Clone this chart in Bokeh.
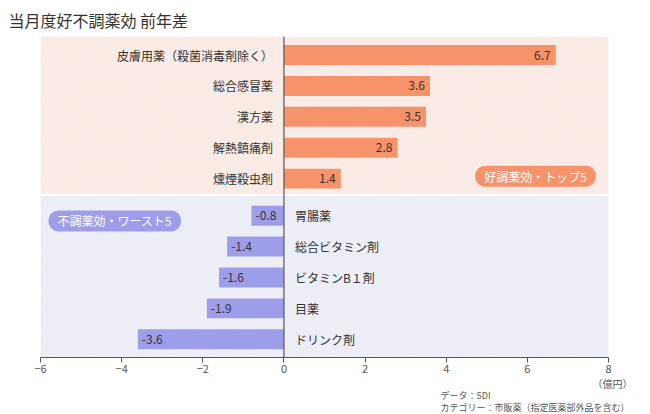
from bokeh.plotting import figure
from bokeh.models import Range1d, FixedTicker, Label, Span, ColumnDataSource, Title
from bokeh.core.properties import value
from bokeh.embed import file_html
from bokeh.resources import INLINE

# ---- data ----
title_text = "当月度好不調薬効 前年差"
top_names = ["皮膚用薬（殺菌消毒剤除く）", "総合感冒薬", "漢方薬", "解熱鎮痛剤", "燻煙殺虫剤"]
top_values = [6.7, 3.6, 3.5, 2.8, 1.4]
bottom_names = ["胃腸薬", "総合ビタミン剤", "ビタミンB１剤", "目薬", "ドリンク剤"]
bottom_values = [-0.8, -1.4, -1.6, -1.9, -3.6]
x_ticks = [-6, -4, -2, 0, 2, 4, 6, 8]
top_badge = "好調薬効・トップ5"
bottom_badge = "不調薬効・ワースト5"
unit_text = "（億円）"
source_lines = ["データ：SDI", "カテゴリー：市販薬（指定医薬部外品を含む）"]

FONT = "Noto Sans CJK JP"
ORANGE = "#F7936A"
LAVENDER = "#9E9DEA"
TXT = "#333333"
NOTE = "#555555"

# layout: row positions (y grows downward)
top_y = [i + 0.6 for i in range(len(top_names))]
bottom_y = [i + 5.8 for i in range(len(bottom_names))]
Y_MAX = 10.39

p = figure(width=640, height=414, output_backend="svg", toolbar_location=None,
           x_range=Range1d(-6, 8), y_range=Range1d(Y_MAX, 0),
           min_border_left=40, min_border_right=32, min_border_top=35, min_border_bottom=57)
p.title.visible = False
p.outline_line_color = None
p.xgrid.visible = False
p.ygrid.visible = False
p.yaxis.visible = False

# background panels
p.quad(left=[-6], right=[8], top=[0], bottom=[5.10], fill_color="#FCF0EC", line_color=None,
       hatch_pattern="/", hatch_color="#F3DCD5", hatch_scale=5, hatch_weight=0.7)
p.quad(left=[-6], right=[8], top=[5.16], bottom=[Y_MAX], fill_color="#F1F2F9", line_color=None,
       hatch_pattern="/", hatch_color="#E1E3EF", hatch_scale=5, hatch_weight=0.7)

top_src = ColumnDataSource(dict(y=top_y, v=top_values, name=top_names,
                                lab=[f"{v:.1f}" for v in top_values]))
bot_src = ColumnDataSource(dict(y=bottom_y, v=bottom_values, name=bottom_names,
                                lab=[f"{v:.1f}" for v in bottom_values]))

p.hbar(y="y", left=0, right="v", height=0.645, fill_color=ORANGE, line_color=None, source=top_src)
p.hbar(y="y", left=0, right="v", height=0.645, fill_color=LAVENDER, line_color=None, source=bot_src)

# value labels
p.text(x="v", y="y", text="lab", source=top_src, x_offset=-5, text_align="right",
       text_baseline="middle", text_font=value(FONT), text_font_size="12px", text_color=TXT)
p.text(x="v", y="y", text="lab", source=bot_src, x_offset=4, text_align="left",
       text_baseline="middle", text_font=value(FONT), text_font_size="12px", text_color=TXT)

# category labels
p.text(x=0, y="y", text="name", source=top_src, x_offset=-11, text_align="right",
       text_baseline="middle", text_font=value(FONT), text_font_size="12px", text_color=TXT)
p.text(x=0, y="y", text="name", source=bot_src, x_offset=11, text_align="left",
       text_baseline="middle", text_font=value(FONT), text_font_size="12px", text_color=TXT)

p.add_layout(Span(location=0, dimension="height", line_color="#555555", line_width=1.2))

# badges
p.add_layout(Label(x=6.2, y=4.52, text=top_badge, text_align="center", text_baseline="middle",
                   text_font=FONT, text_font_size="12px", text_color="white",
                   background_fill_color=ORANGE, border_radius=10,
                   padding=dict(left=9, right=9, top=2, bottom=2)))
p.add_layout(Label(x=-4.17, y=5.97, text=bottom_badge, text_align="center", text_baseline="middle",
                   text_font=FONT, text_font_size="12px", text_color="white",
                   background_fill_color=LAVENDER, border_radius=10,
                   padding=dict(left=9, right=9, top=2, bottom=2)))

# axis
ax = p.xaxis[0]
ax.ticker = FixedTicker(ticks=x_ticks)
ax.axis_line_color = "#555555"
ax.major_tick_line_color = "#555555"
ax.major_tick_out = 5
ax.major_tick_in = 0
ax.minor_tick_line_color = None
ax.major_label_text_font = FONT
ax.major_label_text_font_size = "11px"
ax.major_label_text_color = "#555555"
ax.major_label_standoff = 2

# title and notes as Title annotations in side panels
p.add_layout(Title(text=title_text, align="left", offset=-32, standoff=10,
                   text_font=FONT, text_font_size="16px", text_font_style="normal",
                   text_color=TXT), "above")
p.add_layout(Title(text=unit_text, align="right", offset=-24, standoff=-4,
                   text_font=FONT, text_font_size="10px", text_font_style="normal",
                   text_color=NOTE), "below")
for line in source_lines:
    p.add_layout(Title(text=line, align="left", offset=400, standoff=-3,
                       text_font=FONT, text_font_size="9px", text_font_style="normal",
                       text_color=NOTE), "below")

open("out.html", "w").write(file_html(p, INLINE))
